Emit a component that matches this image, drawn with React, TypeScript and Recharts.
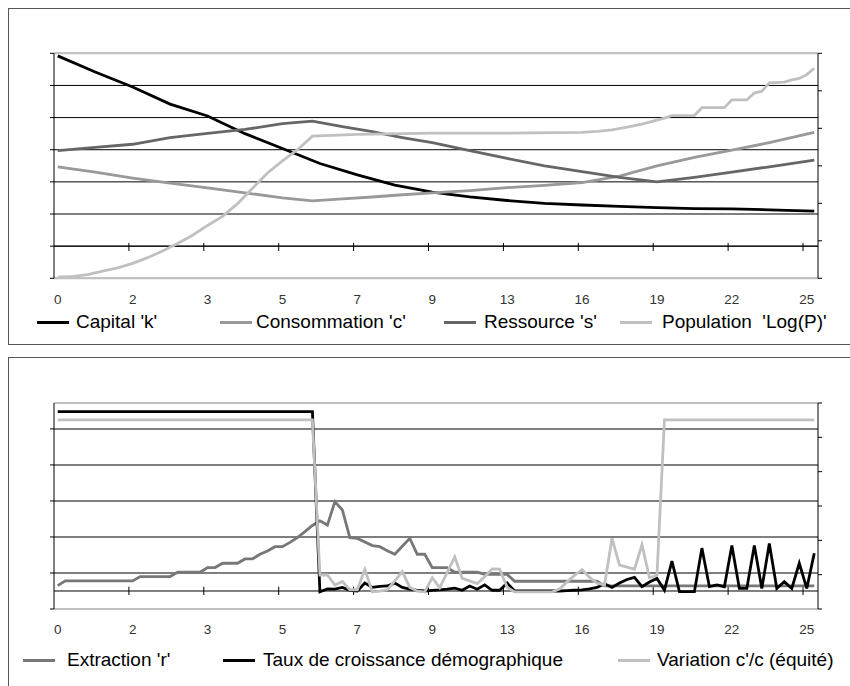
import React from 'react';
import { LineChart, Line, XAxis, YAxis, CartesianGrid, ReferenceLine } from 'recharts';

// category axis: 102 time steps, one label every 10 steps
const TICK_LABELS = ['0', '2', '3', '5', '7', '9', '13', '16', '19', '22', '25'];
const TICK_STEP = 10;
const N_CAT = 102;

// ---- top panel, read as [step, value] (left axis, 7 gridline units) ----
const capitalK = [
  [0, 6.92], [5, 6.42], [10, 5.95], [15, 5.42], [20, 5.05], [25, 4.5], [30, 4.04],
  [35, 3.57], [40, 3.22], [45, 2.9], [50, 2.68], [55, 2.53], [60, 2.42], [65, 2.33],
  [70, 2.28], [75, 2.24], [80, 2.2], [85, 2.17], [90, 2.16], [95, 2.13], [101, 2.09],
];
const consommationC = [
  [0, 3.47], [5, 3.3], [10, 3.12], [15, 2.96], [20, 2.81], [25, 2.66], [30, 2.5],
  [34, 2.41], [38, 2.47], [42, 2.53], [46, 2.6], [50, 2.66], [55, 2.73], [60, 2.82],
  [65, 2.89], [70, 2.98], [75, 3.18], [80, 3.5], [85, 3.76], [90, 3.99], [95, 4.22], [101, 4.54],
];
const ressourceS = [
  [0, 3.97], [5, 4.07], [10, 4.17], [15, 4.38], [20, 4.51], [25, 4.63], [30, 4.81],
  [34, 4.89], [38, 4.72], [42, 4.56], [46, 4.38], [50, 4.22], [55, 3.97], [60, 3.73],
  [65, 3.5], [70, 3.32], [75, 3.14], [80, 3.0], [85, 3.14], [90, 3.3], [95, 3.47], [101, 3.68],
];
// secondary axis (6 units)
const populationLogP = [
  [0, 0.03], [2, 0.05], [4, 0.1], [6, 0.19], [8, 0.28], [10, 0.4], [12, 0.55], [14, 0.73],
  [16, 0.93], [18, 1.15], [20, 1.41], [22, 1.65], [24, 1.99], [26, 2.4], [28, 2.81],
  [30, 3.13], [32, 3.43], [34, 3.79], [40, 3.84], [50, 3.87], [60, 3.87], [70, 3.89],
  [72, 3.92], [74, 3.96], [76, 4.03], [78, 4.11], [80, 4.22], [81, 4.27], [82, 4.34],
  [85, 4.34], [86, 4.55], [89, 4.55], [90, 4.76], [92, 4.76], [93, 4.94], [94, 4.99],
  [95, 5.21], [97, 5.23], [98, 5.29], [99, 5.33], [100, 5.43], [101, 5.6],
];

// ---- bottom panel, one value per step (left axis, gridline units) ----
const extractionR = [
  0.65, 0.78, 0.78, 0.78, 0.78, 0.78, 0.78, 0.78, 0.78, 0.78, 0.78,
  0.9, 0.9, 0.9, 0.9, 0.9, 1.02, 1.02, 1.02, 1.02,
  1.15, 1.15, 1.27, 1.27, 1.27, 1.39, 1.39, 1.52, 1.61, 1.73, 1.73, 1.85, 1.98, 2.15,
  2.32, 2.45, 2.33, 2.98, 2.75, 1.98, 1.96, 1.86, 1.76, 1.73, 1.62, 1.52, 1.74, 1.96,
  1.52, 1.52, 1.15, 1.15, 1.15,
  1.02, 1.02, 1.02, 1.02, 0.96, 0.96, 0.96, 0.96,
  0.77, 0.77, 0.77, 0.77, 0.77, 0.77, 0.77, 0.77, 0.77, 0.77, 0.77, 0.77,
  0.64, 0.64, 0.64, 0.64, 0.64, 0.64, 0.64, 0.64, 0.64, 0.64, 0.64, 0.64, 0.64, 0.64, 0.64,
  0.64, 0.64, 0.64, 0.64, 0.64, 0.64, 0.64, 0.64, 0.64, 0.64, 0.64, 0.64, 0.64, 0.64,
];
const tauxCroissance = [
  5.48, 5.48, 5.48, 5.48, 5.48, 5.48, 5.48, 5.48, 5.48, 5.48, 5.48, 5.48, 5.48, 5.48, 5.48,
  5.48, 5.48, 5.48, 5.48, 5.48, 5.48, 5.48, 5.48, 5.48, 5.48, 5.48, 5.48, 5.48, 5.48, 5.48,
  5.48, 5.48, 5.48, 5.48, 5.48,
  0.48, 0.56, 0.55, 0.6, 0.52, 0.5, 0.72, 0.6, 0.63, 0.64, 0.72, 0.6, 0.55, 0.52, 0.5,
  0.52, 0.53, 0.55, 0.58, 0.52, 0.64, 0.55, 0.67, 0.52, 0.52, 0.72, 0.5, 0.5, 0.5, 0.5,
  0.5, 0.5, 0.5, 0.51, 0.52, 0.53, 0.56, 0.6, 0.7, 0.6, 0.72, 0.82, 0.88, 0.62, 0.75,
  0.85, 0.52, 1.33, 0.48, 0.48, 0.48, 1.69, 0.62, 0.67, 0.62, 1.76, 0.57, 0.57, 1.76,
  0.57, 1.82, 0.57, 0.76, 0.57, 1.27, 0.57, 1.55,
];
// secondary axis (6 units)
const variationCC = [
  5.51, 5.51, 5.51, 5.51, 5.51, 5.51, 5.51, 5.51, 5.51, 5.51, 5.51, 5.51, 5.51, 5.51, 5.51,
  5.51, 5.51, 5.51, 5.51, 5.51, 5.51, 5.51, 5.51, 5.51, 5.51, 5.51, 5.51, 5.51, 5.51, 5.51,
  5.51, 5.51, 5.51, 5.51, 5.51,
  0.99, 0.99, 0.7, 0.8, 0.56, 0.56, 1.15, 0.5, 0.52, 0.56, 0.82, 1.09, 0.63, 0.52, 0.5,
  0.91, 0.62, 1.07, 1.52, 0.89, 0.82, 0.74, 0.94, 1.17, 1.16, 0.63,
  0.5, 0.5, 0.5, 0.5, 0.5, 0.5,
  0.58, 0.79, 0.98, 1.15, 0.92, 0.75, 0.7, 2.06, 1.28, 1.22, 1.16, 1.87, 0.91, 0.99,
  5.51, 5.51, 5.51, 5.51, 5.51, 5.51, 5.51, 5.51, 5.51, 5.51, 5.51, 5.51, 5.51, 5.51,
  5.51, 5.51, 5.51, 5.51, 5.51, 5.51, 5.51,
];

const FONT = "'Liberation Sans', Arial, Helvetica, sans-serif";

const fromPairs = (arr: number[][]) => arr.map(([x, y]) => ({ x, y }));
const fromSeries = (arr: number[]) => arr.map((y, x) => ({ x, y }));
const labelCats = TICK_LABELS.map((_, i) => i * TICK_STEP);
const tickBounds = labelCats.slice(1).map((c) => c - 0.5);

const makeTick = (dy: number) => (props: any) => {
  const { x, y, payload } = props;
  const label = TICK_LABELS[Math.round(payload.value / TICK_STEP)];
  return (
    <text x={x} y={y + dy} textAnchor="middle" dominantBaseline="central"
      fontSize={13.5} fill="#333" fontFamily={FONT}>
      {label}
    </text>
  );
};

function LegendRow({ items, y }: { items: any[]; y: number }) {
  return (
    <>
      {items.map((it) => (
        <React.Fragment key={it.label}>
          <div style={{ position: 'absolute', left: it.lineX, top: y - 1.5, width: 32, height: 3, background: it.color }} />
          <div style={{
            position: 'absolute', left: it.textX, top: y - 11, height: 22, lineHeight: '22px',
            fontSize: 19, fontFamily: FONT, color: '#000', whiteSpace: 'pre',
          }}>
            {it.label}
          </div>
        </React.Fragment>
      ))}
    </>
  );
}

const topLegend = [
  { label: "Capital 'k'", color: '#000', lineX: 37, textX: 76 },
  { label: "Consommation 'c'", color: '#999', lineX: 220, textX: 256 },
  { label: "Ressource 's'", color: '#666', lineX: 444, textX: 484 },
  { label: "Population  'Log(P)'", color: '#c0c0c0', lineX: 620, textX: 662 },
];
const bottomLegend = [
  { label: "Extraction 'r'", color: '#777', lineX: 23, textX: 67 },
  { label: 'Taux de croissance démographique', color: '#000', lineX: 223, textX: 263 },
  { label: "Variation c'/c (équité)", color: '#c0c0c0', lineX: 618, textX: 657 },
];

const lineProps = { type: 'linear' as const, dataKey: 'y', dot: false, strokeWidth: 2.8, isAnimationActive: false };
const axisProps = {
  width: 6, tickSize: 4, axisLine: { stroke: '#000' }, tickLine: { stroke: '#000' },
  tickFormatter: () => '', allowDataOverflow: true, interval: 0 as const,
};

export default function App() {
  return (
    <div style={{ position: 'fixed', left: 0, top: 0, width: 850, height: 686, overflow: 'hidden', background: '#fff' }}>
      <div style={{ position: 'absolute', left: 8, top: 8, width: 860, height: 337, border: '1px solid #555', boxSizing: 'border-box' }} />
      <div style={{ position: 'absolute', left: 8, top: 357, width: 860, height: 340, border: '1px solid #555', boxSizing: 'border-box' }} />

      {/* top chart */}
      <div style={{ position: 'absolute', left: 0, top: 0 }}>
        <LineChart width={850} height={344} margin={{ top: 53.3, right: 26, bottom: 25.7, left: 48 }}>
          <CartesianGrid vertical={false} stroke="#000" strokeWidth={1} />
          <XAxis type="number" dataKey="x" domain={[-0.5, N_CAT - 0.5]} ticks={labelCats} interval={0}
            axisLine={false} tickLine={false} tickSize={0} tickMargin={0} height={40}
            tick={makeTick(20.7)} allowDataOverflow />
          <YAxis {...axisProps} domain={[0, 7]} ticks={[0, 1, 2, 3, 4, 5, 6, 7]} />
          <YAxis {...axisProps} yAxisId="right" orientation="right" domain={[0, 6]} ticks={[0, 1, 2, 3, 4, 5, 6]} />
          <ReferenceLine y={7} stroke="#c0c0c0" strokeWidth={2} />
          <ReferenceLine y={0} stroke="#c0c0c0" strokeWidth={2} />
          <ReferenceLine y={1} stroke="#000" strokeWidth={1} />
          {tickBounds.map((c) => (
            <ReferenceLine key={c} segment={[{ x: c, y: 0.85 }, { x: c, y: 1.1 }]} stroke="#000" strokeWidth={1} />
          ))}
          <Line {...lineProps} data={fromPairs(capitalK)} stroke="#000" />
          <Line {...lineProps} data={fromPairs(consommationC)} stroke="#999" />
          <Line {...lineProps} data={fromPairs(ressourceS)} stroke="#666" />
          <Line {...lineProps} yAxisId="right" data={fromPairs(populationLogP)} stroke="#c0c0c0" />
        </LineChart>
      </div>
      <LegendRow items={topLegend} y={322} />

      {/* bottom chart */}
      <div style={{ position: 'absolute', left: 0, top: 357 }}>
        <LineChart width={850} height={329} margin={{ top: 46, right: 26, bottom: 37, left: 48 }}>
          <CartesianGrid vertical={false} stroke="#555" strokeWidth={1.5} />
          <XAxis type="number" dataKey="x" domain={[-0.5, N_CAT - 0.5]} ticks={labelCats} interval={0}
            axisLine={false} tickLine={false} tickSize={0} tickMargin={0} height={40}
            tick={makeTick(20)} allowDataOverflow />
          <YAxis {...axisProps} domain={[0, 5.72]} ticks={[0, 1, 2, 3, 4, 5]} />
          <YAxis {...axisProps} yAxisId="right" orientation="right" domain={[0, 6]} ticks={[0, 1, 2, 3, 4, 5, 6]} />
          <ReferenceLine y={5.72} stroke="#c0c0c0" strokeWidth={2} />
          <ReferenceLine y={0} stroke="#c0c0c0" strokeWidth={2} />
          <ReferenceLine y={0.5} stroke="#000" strokeWidth={1} />
          {tickBounds.map((c) => (
            <ReferenceLine key={c} segment={[{ x: c, y: 0.39 }, { x: c, y: 0.62 }]} stroke="#000" strokeWidth={1} />
          ))}
          <Line {...lineProps} data={fromSeries(extractionR)} stroke="#777" />
          <Line {...lineProps} data={fromSeries(tauxCroissance)} stroke="#000" />
          <Line {...lineProps} yAxisId="right" data={fromSeries(variationCC)} stroke="#c0c0c0" />
        </LineChart>
      </div>
      <LegendRow items={bottomLegend} y={660} />
    </div>
  );
}
